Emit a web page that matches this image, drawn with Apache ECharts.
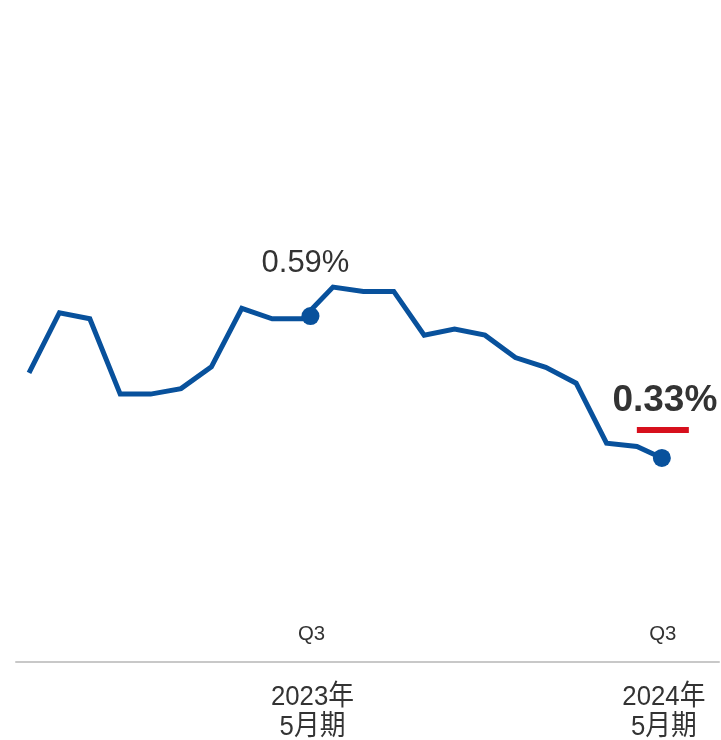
<!DOCTYPE html>
<html>
<head>
<meta charset="utf-8">
<script src="https://cdn.jsdelivr.net/npm/echarts@6/dist/echarts.min.js"></script>
<style>
html,body{margin:0;padding:0;background:#fff;}
#chart{width:721px;height:740px;}
</style>
</head>
<body>
<div id="chart"></div>
<script>
// Data (x = month index, y = %)
const xValues = [0,1,2,3,4,5,6,7,8,9,10,11,12,13,14,15,16,17,18,19,20,20.82];
const yValues = [0.486,0.596,0.585,0.447,0.447,0.457,0.497,0.604,0.585,0.585,0.643,0.635,0.635,0.555,0.566,0.555,0.514,0.496,0.467,0.357,0.351,0.33];
const markerX = [9.26, 20.82];
const markerY = [0.59, 0.33];
const markerLabels = ['0.59%', '0.33%'];
const yearLabels = ['2023年\n5月期', '2024年\n5月期'];
const quarterLabels = ['Q3', 'Q3'];

const FONT = '"Liberation Sans", Arial, "Noto Sans CJK JP", sans-serif';
const BLUE = '#08519c';
const TEXT = '#333333';
const X_MIN = -0.428, X_MAX = 22.70, Y_MIN = -0.0437, Y_MAX = 1.1688;

const chart = echarts.init(document.getElementById('chart'), null, {renderer: 'canvas'});
chart.setOption({
  animation: false,
  backgroundColor: '#fff',
  grid: {left: 16, right: 2, top: 0, bottom: 78, containLabel: false},
  xAxis: {
    type: 'value', min: X_MIN, max: X_MAX, position: 'bottom',
    splitLine: {show: false},
    axisLine: {show: true, onZero: false, lineStyle: {color: '#c8c8c8', width: 2}},
    axisTick: {show: false},
    axisLabel: {show: false}
  },
  yAxis: {
    type: 'value', min: Y_MIN, max: Y_MAX, show: false,
    splitLine: {show: false}
  },
  series: [{
    type: 'line',
    data: xValues.map((x, i) => [x, yValues[i]]),
    symbol: 'none',
    lineStyle: {color: BLUE, width: 5, join: 'miter'},
    z: 2
  }, {
    type: 'scatter',
    data: [
      {value: [markerX[0], markerY[0]], label: {
        show: true, position: 'top', distance: 28, offset: [-5, 0],
        formatter: markerLabels[0], fontFamily: FONT, fontSize: 31, color: TEXT
      }},
      {value: [markerX[1], markerY[1]], label: {
        show: true, position: 'top', distance: 30, offset: [3, 0],
        formatter: markerLabels[1], fontFamily: FONT, fontSize: 37, fontWeight: 'bold', color: TEXT
      }}
    ],
    symbol: 'circle', symbolSize: 18,
    itemStyle: {color: BLUE, opacity: 1},
    markPoint: {
      silent: true,
      data: [{coord: [markerX[1], markerY[1]], symbol: 'rect', symbolSize: [52, 6], symbolOffset: [1, -28],
        itemStyle: {color: '#d7101d'}, label: {show: false}}]
    },
    z: 3
  }]
});

// Axis labels placed with the chart's own x scale
const axisY = chart.convertToPixel({yAxisIndex: 0}, Y_MIN);
const graphics = [];
markerX.forEach(function(v, i){
  const px = chart.convertToPixel({xAxisIndex: 0}, v);
  graphics.push({
    type: 'text', x: px + 1, y: axisY - 28, scaleX: 0.97, silent: true,
    style: {text: quarterLabels[i], fontFamily: FONT, fontSize: 21, fill: TEXT,
      align: 'center', verticalAlign: 'middle'}
  });
  graphics.push({
    type: 'text', x: px + 2, y: axisY + 20, scaleX: 0.92, silent: true,
    style: {text: yearLabels[i], fontFamily: FONT, fontSize: 28, lineHeight: 30, fill: TEXT,
      align: 'center', verticalAlign: 'top'}
  });
});
chart.setOption({graphic: graphics});
</script>
</body>
</html>
